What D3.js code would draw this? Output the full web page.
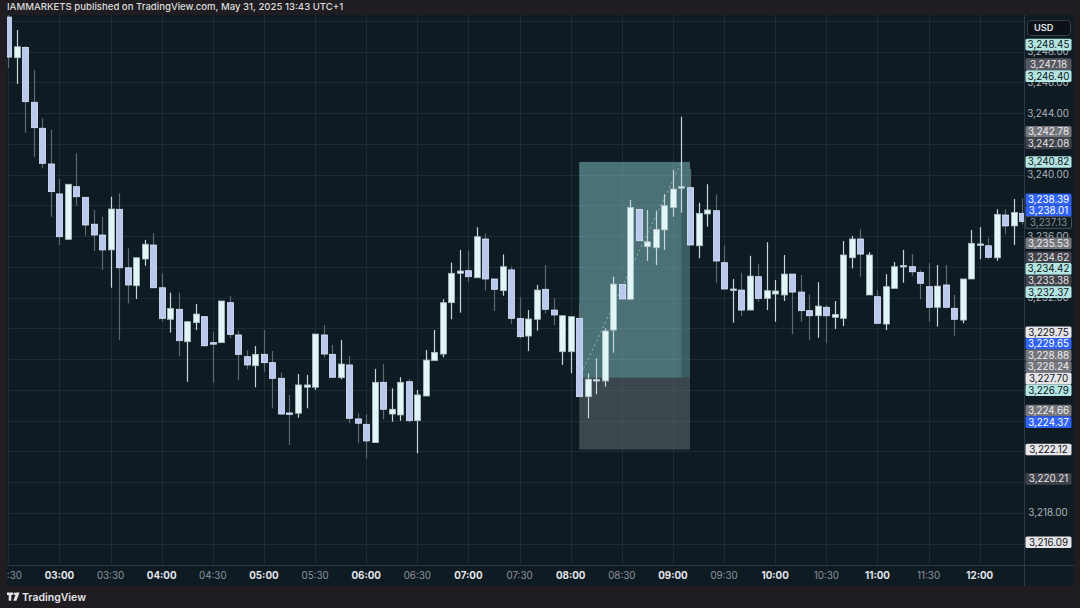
<!DOCTYPE html>
<html><head><meta charset="utf-8">
<script src="https://cdn.jsdelivr.net/npm/d3@7"></script>
<style>html,body{margin:0;padding:0;background:#1f1d22;}svg{display:block;}</style>
</head><body>
<svg id="c" width="1080" height="608"></svg>
<script>
// ---- data (5-minute candles, starting 02:30) ----
const startTime = "02:30";
const stepMinutes = 5;
const open = [3250.24,3247.60,3248.27,3244.70,3243.01,3240.69,3238.74,3235.79,3239.21,3238.52,
3236.77,3236.07,3235.10,3237.74,3233.94,3232.77,3234.51,3235.42,3232.64,3230.59,
3231.24,3229.13,3230.37,3230.76,3229.07,3229.07,3231.67,3229.57,3228.16,3227.57,
3228.31,3227.77,3226.75,3224.50,3224.48,3226.17,3226.17,3229.57,3228.31,3226.79,
3227.62,3224.11,3223.76,3222.57,3226.49,3224.43,3224.37,3226.53,3224.00,3225.60,
3227.90,3228.33,3231.67,3233.58,3233.75,3233.29,3235.81,3233.21,3232.45,3233.80,
3230.65,3229.50,3230.59,3232.54,3231.19,3228.48,3228.48,3230.65,3225.56,3226.64,
3226.58,3229.89,3232.86,3231.89,3237.74,3235.31,3235.24,3236.40,3237.85,3239.17,
3239.15,3235.37,3237.44,3237.65,3234.27,3232.54,3232.49,3231.19,3233.36,3231.95,
3232.23,3232.17,3233.53,3232.36,3231.15,3230.82,3231.37,3230.72,3230.65,3234.59,
3235.81,3232.17,3232.06,3230.28,3232.60,3234.05,3234.01,3233.64,3232.71,3231.37,
3232.82,3231.30,3230.54,3233.21,3235.47,3235.37,3234.59,3237.37,3236.66,3237.48];
const high = [3250.37,3249.40,3248.36,3246.80,3243.66,3242.90,3239.71,3239.37,3241.38,3238.54,
3237.70,3237.26,3238.56,3238.78,3235.20,3234.59,3235.75,3236.18,3233.58,3232.32,
3232.32,3230.48,3231.58,3230.80,3229.78,3231.78,3232.10,3229.85,3228.59,3228.85,
3229.89,3228.53,3227.12,3225.67,3227.03,3226.97,3229.63,3230.22,3228.92,3229.24,
3228.20,3224.48,3224.41,3227.36,3227.68,3226.10,3226.82,3226.69,3225.99,3228.59,
3229.89,3231.89,3234.27,3235.10,3235.05,3236.57,3236.18,3233.21,3234.81,3234.01,
3232.02,3231.19,3232.82,3234.12,3231.95,3230.82,3230.76,3231.63,3227.08,3228.05,
3230.00,3233.36,3233.40,3238.35,3238.56,3237.70,3237.65,3238.72,3240.30,3243.76,
3240.36,3238.17,3239.37,3238.72,3235.37,3233.21,3233.62,3234.72,3234.18,3235.60,
3233.15,3234.77,3233.53,3233.47,3232.21,3233.00,3231.52,3231.78,3235.68,3236.01,
3236.44,3234.95,3232.49,3233.53,3234.31,3235.10,3234.83,3233.80,3234.23,3234.12,
3234.12,3232.17,3233.21,3236.40,3236.57,3235.89,3237.74,3237.74,3238.41,3238.45];
const low = [3246.93,3245.89,3242.72,3241.16,3240.41,3237.26,3235.42,3235.75,3237.97,3236.03,
3235.03,3233.80,3232.64,3229.24,3231.63,3231.91,3234.07,3232.64,3230.43,3229.72,
3228.20,3226.53,3229.89,3228.79,3226.47,3229.07,3229.35,3226.64,3227.34,3226.17,
3227.18,3224.80,3224.37,3222.42,3224.19,3224.80,3225.99,3228.12,3226.82,3226.69,
3223.83,3222.53,3221.55,3222.57,3224.09,3223.93,3223.99,3223.87,3221.88,3225.60,
3227.88,3228.12,3230.59,3231.02,3233.03,3233.29,3232.45,3231.13,3232.12,3230.28,
3229.35,3228.53,3229.85,3230.98,3230.22,3227.62,3227.08,3225.56,3224.15,3225.71,
3226.21,3228.42,3229.24,3231.89,3235.10,3234.38,3234.12,3235.10,3237.26,3237.52,
3235.42,3234.56,3236.61,3232.97,3232.56,3230.37,3230.80,3231.19,3231.73,3231.19,
3230.43,3231.78,3229.61,3230.43,3229.24,3229.39,3229.03,3229.96,3230.15,3233.90,
3233.36,3232.17,3230.33,3229.89,3232.60,3232.97,3233.40,3231.89,3230.43,3230.11,
3231.30,3229.52,3230.33,3233.21,3234.49,3234.49,3234.40,3236.11,3235.42,3236.76];
const close = [3247.64,3248.31,3244.74,3243.05,3240.73,3238.89,3235.96,3239.37,3238.56,3236.72,
3236.07,3235.10,3237.76,3233.94,3232.82,3234.59,3235.47,3232.64,3230.65,3231.30,
3229.20,3230.43,3230.93,3228.87,3228.98,3231.78,3229.61,3228.31,3227.62,3228.31,
3227.77,3226.75,3224.43,3224.46,3226.32,3226.32,3229.63,3228.33,3226.82,3227.68,
3224.15,3223.83,3222.68,3226.49,3224.74,3224.74,3226.49,3224.00,3225.67,3227.94,
3228.44,3231.67,3233.58,3233.73,3233.36,3235.96,3233.21,3232.54,3234.01,3230.65,
3229.46,3230.61,3232.49,3231.24,3230.87,3230.82,3230.76,3225.56,3226.69,3226.67,
3229.83,3232.88,3231.91,3237.87,3235.70,3235.63,3236.44,3237.98,3239.06,3239.21,
3235.42,3237.48,3237.70,3234.38,3232.56,3232.56,3231.19,3233.40,3231.95,3232.45,
3232.43,3233.53,3232.36,3231.15,3230.82,3231.45,3230.82,3230.91,3234.77,3235.81,
3234.83,3234.77,3230.33,3232.71,3234.01,3234.09,3233.68,3232.93,3231.37,3232.75,
3231.37,3230.59,3233.21,3235.53,3235.49,3234.62,3237.41,3236.66,3237.54,3236.95];

// long position tool
const positionStart = "08:05", positionEnd = "09:10", targetHit = "09:00";
const entryPrice = 3226.79, targetPrice = 3240.82, stopPrice = 3222.12, closedAt = 3239.21;

// price-scale labels
const labelPrices = [3248.45,3247.18,3246.40,3242.78,3242.08,3240.82,3238.39,3238.01,3237.13,3235.53,
3234.62,3234.42,3233.38,3232.37,3229.75,3229.65,3228.88,3228.24,3227.70,3226.79,
3224.66,3224.37,3222.12,3220.21,3216.09];
const labelKinds = ["teal","mid","teal","gray","dark","teal","blue","blue","outline","gray",
"dark","teal","dark","teal","white","blue","gray","gray","white","teal",
"gray","blue","white","dark","white"];
const priceTicks = d3.range(3216, 3251, 2);

const title = "IAMMARKETS published on TradingView.com, May 31, 2025 13:43 UTC+1";

// ---- build ----
const parse = s => { const [h,m] = s.split(":").map(Number); return new Date(2025,4,31,h,m); };
const t0 = parse(startTime);
const candles = open.map((o,i)=>({t:new Date(t0.getTime()+i*stepMinutes*60000),o,h:high[i],l:low[i],c:close[i]}));

const svg = d3.select("#c");
const L=7, R=1024, T=15, B=565, AX=1074, BOT=586;
const FONT = "Inter, 'Noto Sans', sans-serif";

const x = d3.scaleTime().domain([candles[0].t, candles[candles.length-1].t]).range([8.3, 1022.3]);
const y = d3.scaleLinear().domain([3218, 3244]).range([512.9, 113.05]);

svg.append("rect").attr("width",1080).attr("height",608).attr("fill","#1f1d22");
svg.append("rect").attr("x",L).attr("y",T).attr("width",AX-L).attr("height",BOT-T).attr("fill","#0f1b23");

svg.append("text").attr("x",7).attr("y",10).attr("fill","#dcdcdc").attr("font-family",FONT)
  .attr("font-size",9.6).attr("font-weight",500).text(title);

const defs = svg.append("defs");
defs.append("clipPath").attr("id","plot").append("rect").attr("x",L).attr("y",T).attr("width",R-L).attr("height",B-T);
defs.append("clipPath").attr("id","taxis").append("rect").attr("x",L).attr("y",B).attr("width",R-L).attr("height",BOT-B);

// grid
const g = svg.append("g").attr("clip-path","url(#plot)");
const timeTicks = d3.timeMinute.every(30).range(new Date(t0.getTime()), new Date(t0.getTime()+600*60000));
g.selectAll(".vg").data(timeTicks).join("line").attr("x1",d=>Math.round(x(d))+0.5).attr("x2",d=>Math.round(x(d))+0.5)
  .attr("y1",T).attr("y2",B).attr("stroke","#1c2b35").attr("stroke-width",1);
g.selectAll(".hg").data(priceTicks).join("line").attr("y1",d=>Math.round(y(d))+0.5).attr("y2",d=>Math.round(y(d))+0.5)
  .attr("x1",L).attr("x2",R).attr("stroke","#1c2b35").attr("stroke-width",1);

// position tool
const xs = x(parse(positionStart)), xe = x(parse(positionEnd));
g.append("rect").attr("x",xs).attr("width",xe-xs).attr("y",y(targetPrice)).attr("height",y(entryPrice)-y(targetPrice))
  .attr("fill","rgba(128,196,196,0.52)");
g.append("rect").attr("x",xs).attr("width",xe-xs).attr("y",y(entryPrice)).attr("height",y(stopPrice)-y(entryPrice))
  .attr("fill","rgba(125,130,136,0.42)");
const xh = x(parse(targetHit)) + 8.52;
g.append("rect").attr("x",xh).attr("width",xe-xh).attr("y",y(closedAt)).attr("height",y(entryPrice)-y(closedAt))
  .attr("fill","rgba(20,45,50,0.3)");
g.append("line").attr("x1",xs).attr("y1",y(entryPrice)).attr("x2",xh).attr("y2",y(targetPrice))
  .attr("stroke","rgba(210,230,230,0.55)").attr("stroke-width",1).attr("stroke-dasharray","2,3");

// candles
const bw = 6;
const up = d => d.c >= d.o;
const cg = g.append("g");
cg.selectAll(".wick").data(candles).join("line")
  .attr("x1",d=>Math.round(x(d.t))+0.5).attr("x2",d=>Math.round(x(d.t))+0.5)
  .attr("y1",d=>y(d.h)).attr("y2",d=>y(d.l))
  .attr("stroke",d=>up(d)?"#c9d5dc":"#5e6874").attr("stroke-width",1.2);
cg.selectAll(".body").data(candles).join("rect")
  .attr("x",d=>Math.round(x(d.t))+0.5-bw/2).attr("width",bw)
  .attr("y",d=>y(Math.max(d.o,d.c))).attr("height",d=>Math.max(1.5,Math.abs(y(d.o)-y(d.c))))
  .attr("fill",d=>up(d)?"#e2f6f7":"#bac8ee")
  .attr("stroke",d=>up(d)?"#aabfc4":"#dce5fa").attr("stroke-width",0.8);

// axes separators
svg.append("line").attr("x1",R+0.5).attr("x2",R+0.5).attr("y1",T).attr("y2",BOT).attr("stroke","#2c3a45");
svg.append("line").attr("x1",L).attr("x2",AX).attr("y1",B+0.5).attr("y2",B+0.5).attr("stroke","#2c3a45");

// time axis
const ta = svg.append("g").attr("clip-path","url(#taxis)");
ta.selectAll("text").data(timeTicks).join("text")
  .attr("x",d=>x(d)).attr("y",579).attr("text-anchor","middle").attr("font-family",FONT).attr("font-size",9.8)
  .attr("font-weight",d=>d.getMinutes()===0?700:400)
  .attr("fill",d=>d.getMinutes()===0?"#e4e6ea":"#8e939c")
  .text(d3.timeFormat("%H:%M"));

// price labels (downward collision push)
const styles = {
  teal:{bg:"#b3e6e3",fg:"#101418",st:"none"},
  mid:{bg:"#55575e",fg:"#e9e9ea",st:"none"},
  gray:{bg:"#74767c",fg:"#eeeeef",st:"none"},
  dark:{bg:"#404249",fg:"#e2e2e4",st:"none"},
  blue:{bg:"#2f62f5",fg:"#ffffff",st:"none"},
  white:{bg:"#e6e6ea",fg:"#111317",st:"none"},
  outline:{bg:"#101a21",fg:"#8c939b",st:"#47525c"}
};
const BH = 11.6;
const lab = labelPrices.map((p,i)=>({p,k:labelKinds[i],y:y(p)})).sort((a,b)=>b.p-a.p);
for (let i=1;i<lab.length;i++) if (lab[i].y < lab[i-1].y+BH) lab[i].y = lab[i-1].y+BH;

// price axis ticks: skip those mostly covered by a label box
const fmt = d3.format(",.2f");
const covered = p => {
  const a = y(p)-3.5, b = y(p)+3.5;
  let c = 0;
  for (let v=a; v<b; v+=0.25) if (lab.some(l=>v>=l.y-BH/2 && v<=l.y+BH/2)) c += 0.25;
  return c/(b-a);
};
const pa = svg.append("g");
pa.selectAll("text").data(priceTicks.filter(p=>y(p)>T+20 && y(p)<B-6 && covered(p)<0.75)).join("text")
  .attr("x",1048).attr("y",d=>y(d)+3.5).attr("text-anchor","middle").attr("font-family",FONT)
  .attr("font-size",9.8).attr("fill","#aeb3bb").text(fmt);

const lg = pa.selectAll(".lab").data(lab).join("g");
lg.append("rect").attr("x",1025.5).attr("width",46).attr("y",d=>d.y-BH/2).attr("height",BH).attr("rx",1.5)
  .attr("fill",d=>styles[d.k].bg).attr("stroke",d=>styles[d.k].st);
lg.append("text").attr("x",1048.5).attr("y",d=>d.y+3.5).attr("text-anchor","middle").attr("font-family",FONT)
  .attr("font-size",9.8).attr("fill",d=>styles[d.k].fg).text(d=>fmt(d.p));

// currency box
svg.append("rect").attr("x",1027.5).attr("y",20.5).attr("width",43).attr("height",15).attr("rx",3)
  .attr("fill","#0b1116").attr("stroke","#3a4049");
svg.append("text").attr("x",1034).attr("y",31.2).attr("font-family",FONT).attr("font-size",9.2)
  .attr("font-weight",600).attr("fill","#e8e8ea").text("USD");

// footer logo
const fg = svg.append("g").attr("fill","#e6e6e8");
fg.append("path").attr("d","M7,592.5h6v2.6h-1.7v5.6h-2.6v-5.6h-1.7z");
fg.append("circle").attr("cx",14.8).attr("cy",593.8).attr("r",1.3);
fg.append("path").attr("d","M16.2,592.5h3.4l-3.2,8.2h-3z");
svg.append("text").attr("x",22).attr("y",600.5).attr("font-family",FONT).attr("font-size",10.5)
  .attr("font-weight",600).attr("fill","#e6e6e8").text("TradingView");
</script>
</body></html>
